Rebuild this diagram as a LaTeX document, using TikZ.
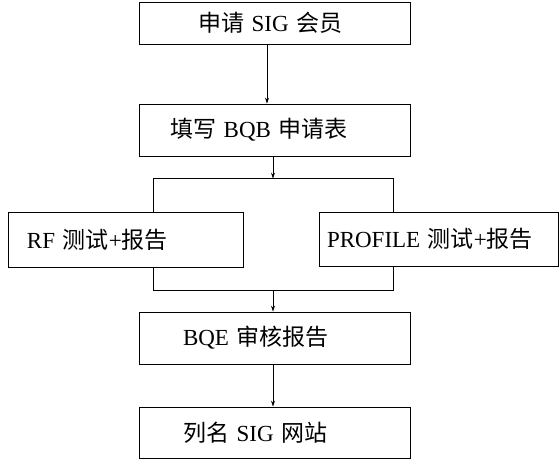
\documentclass[tikz,border=0pt]{standalone}
\usepackage{fontspec}
\setmainfont{Liberation Serif}
\newfontfamily\cjk{Noto Sans CJK SC}
\usetikzlibrary{arrows.meta,positioning,calc}
\newcommand{\zh}[1]{{\cjk #1}}

\tikzset{
  stepbox/.style={draw,line width=0.9pt,inner xsep=0pt,align=left,font=\fontsize{23}{26}\selectfont},
}

\begin{document}
\begin{tikzpicture}[x=1pt,y=-1pt,>={Stealth[length=6pt,width=4pt]},line width=0.8pt]
  \useasboundingbox (0,0) rectangle (560,462);
  % boxes
  \node[stepbox,text width=271pt,minimum height=42pt] (apply) at (274.5,23) {\hspace*{59pt}\zh{申请} SIG \zh{会员}};
  \node[stepbox,text width=271pt,minimum height=52pt] (form) at (274.5,130) {\hspace*{31pt}\zh{填写} BQB \zh{申请表}};
  \node[stepbox,text width=235pt,minimum height=55pt] (rf) at (125.5,239.5) {\hspace*{19pt}RF \zh{测试}+\zh{报告}};
  \node[stepbox,text width=239pt,minimum height=54pt] (profile) at (438.5,239) {\hspace*{8pt}PROFILE \zh{测试}+\zh{报告}};
  \node[stepbox,text width=271pt,minimum height=52pt] (review) at (274.5,338) {\hspace*{44pt}BQE \zh{审核报告}};
  \node[stepbox,text width=271pt,minimum height=51pt] (site) at (274.5,432.5) {\hspace*{44pt}\zh{列名} SIG \zh{网站}};
  % split and join
  \coordinate (split) at (273,178.6);
  \coordinate (splitL) at (153,178.6);
  \coordinate (splitR) at (393,178.6);
  \coordinate (join) at (273,290);
  \coordinate (joinL) at (153,290);
  \coordinate (joinR) at (393,290);
  \draw[->] ([xshift=-7.5pt]apply.south) -- ([xshift=-7.5pt]form.north);
  \draw[->] ([xshift=-1.5pt]form.south) -- (split);
  \draw (splitL |- rf.north) -- (splitL) -- (splitR) -- (splitR |- profile.north);
  \draw (joinL |- rf.south) -- (joinL) -- (joinR) -- (joinR |- profile.south);
  \draw[->] (join) -- ([xshift=-1.5pt]review.north);
  \draw[->] ([xshift=-1.5pt]review.south) -- ([xshift=-1.5pt]site.north);
\end{tikzpicture}
\end{document}
